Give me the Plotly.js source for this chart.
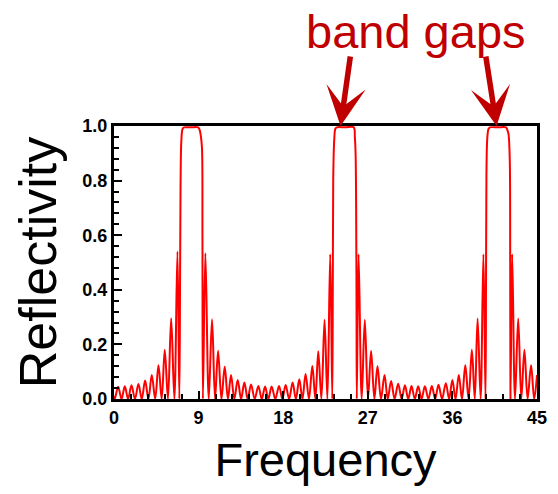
<!DOCTYPE html>
<html>
<head>
<meta charset="utf-8">
<script src="https://cdn.plot.ly/plotly-3.0.1.min.js"></script>
<style>html,body{margin:0;padding:0;background:#fff;}#chart{width:558px;height:494px;}</style>
</head>
<body>
<div id="chart"></div>
<script>
// Frequency (x) and reflectivity (y) points
var freq = [
  0, 0.08,
  0.44, 0.80, 1.15, 1.50, 1.86, 2.23, 2.60, 2.95, 3.31, 3.66, 4.02, 4.38, 4.73, 5.07, 5.40, 5.74, 6.08, 6.42, 6.75, 6.95,
  7.03, 7.08, 7.17, 7.30, 7.45, 8.20, 8.95, 9.12, 9.25, 9.36, 9.41, 9.46,
  9.72, 10.08, 10.43, 10.75, 11.07, 11.43, 11.78, 12.12, 12.45, 12.80, 13.16, 13.52, 13.87, 14.22, 14.58, 14.97,
  15.36, 15.72, 16.07, 16.42, 16.77, 17.16, 17.56, 17.91, 18.26, 18.63, 19.00, 19.35, 19.71, 20.05, 20.38, 20.74,
  21.10, 21.42, 21.73, 22.06, 22.40, 22.70, 23.00, 23.22,
  23.28, 23.32, 23.43, 23.55, 23.70, 24.60, 25.50, 25.62, 25.70, 25.76, 25.80, 25.83,
  26.02, 26.35, 26.68, 27.02, 27.35, 27.70, 28.03, 28.40, 28.78, 29.12, 29.48, 29.85, 30.23, 30.60, 30.95, 31.30,
  31.65, 32.00, 32.36, 32.72, 33.07, 33.45, 33.81, 34.17, 34.52, 34.90, 35.30, 35.65, 36.00, 36.33, 36.68, 37.02,
  37.37, 37.72, 38.07, 38.38, 38.68, 39.00, 39.30, 39.52,
  39.58, 39.62, 39.72, 39.85, 40.00, 40.85, 41.70, 41.85, 41.97, 42.10, 42.15, 42.18,
  42.36, 42.66, 43.00, 43.33, 43.66, 44.00, 44.37, 44.70, 45.00
];
var reflectivity = [
  0.012, 0,
  0.045, 0, 0.047, 0, 0.050, 0, 0.055, 0, 0.068, 0, 0.088, 0, 0.124, 0, 0.180, 0, 0.296, 0, 0.540, 0,
  0.45, 0.78, 0.95, 0.99, 0.995, 0.995, 0.995, 0.985, 0.96, 0.92, 0.6, 0,
  0.534, 0, 0.292, 0, 0.177, 0, 0.118, 0, 0.088, 0, 0.070, 0, 0.060, 0, 0.053, 0,
  0.048, 0, 0.046, 0, 0.046, 0, 0.048, 0, 0.051, 0, 0.060, 0, 0.072, 0, 0.092, 0,
  0.121, 0, 0.175, 0, 0.290, 0, 0.530, 0,
  0.45, 0.80, 0.95, 0.99, 0.995, 0.995, 0.995, 0.96, 0.90, 0.70, 0.35, 0,
  0.530, 0, 0.290, 0, 0.177, 0, 0.120, 0, 0.088, 0, 0.066, 0, 0.056, 0, 0.050, 0,
  0.048, 0, 0.047, 0, 0.047, 0, 0.048, 0, 0.052, 0, 0.058, 0, 0.070, 0, 0.088, 0,
  0.124, 0, 0.180, 0, 0.295, 0, 0.530, 0,
  0.45, 0.82, 0.96, 0.99, 0.995, 0.995, 0.995, 0.985, 0.97, 0.88, 0.5, 0,
  0.530, 0, 0.295, 0, 0.180, 0, 0.124, 0, 0.088
];
var xTickVals = [0, 9, 18, 27, 36, 45];
var xTickText = ["0", "9", "18", "27", "36", "45"];
var yTickVals = [0, 0.2, 0.4, 0.6, 0.8, 1.0];
var yTickText = ["0.0", "0.2", "0.4", "0.6", "0.8", "1.0"];
var gapArrowTips = [24.1, 40.7];
var annotationText = "band gaps";

var tickFont = {family: "Liberation Sans, Arial, sans-serif", size: 18, color: "#000", weight: "bold"};
var red = "#c00000";

var trace = {
  x: freq, y: reflectivity, type: "scatter", mode: "lines",
  line: {color: "#ff0000", width: 2, shape: "spline", smoothing: 1},
  hoverinfo: "skip"
};

var annotations = [
  {xref: "paper", yref: "paper", x: 0.714, y: 1.347, text: annotationText, showarrow: false,
   font: {family: "Liberation Sans, Arial, sans-serif", size: 47, color: red}, xanchor: "center", yanchor: "middle"}
];
var arrowOffsets = [[10, -71], [-11, -71]];
for (var i = 0; i < gapArrowTips.length; i++) {
  annotations.push({
    xref: "x", yref: "y", x: gapArrowTips[i], y: 1.0, text: "", showarrow: true,
    ax: arrowOffsets[i][0], ay: arrowOffsets[i][1], axref: "pixel", ayref: "pixel",
    arrowhead: 3, arrowsize: 1.2, arrowwidth: 5.5, arrowcolor: red, standoff: 0
  });
}

var layout = {
  width: 558, height: 494,
  margin: {l: 113.5, r: 21, t: 126, b: 95, pad: 0},
  paper_bgcolor: "#fff", plot_bgcolor: "#fff",
  showlegend: false,
  xaxis: {
    range: [0, 45], tickmode: "array", tickvals: xTickVals, ticktext: xTickText,
    ticks: "inside", ticklen: 8, tickwidth: 2, tickcolor: "#000",
    minor: {dtick: 1.8, tick0: 0, ticks: "inside", ticklen: 5, tickwidth: 2, tickcolor: "#000"},
    showline: true, linecolor: "#000", linewidth: 3, mirror: true,
    showgrid: false, zeroline: false, tickfont: tickFont,
    title: {text: "Frequency", font: {family: "Liberation Sans, Arial, sans-serif", size: 47, color: "#000"}, standoff: 17}
  },
  yaxis: {
    range: [0, 1], tickmode: "array", tickvals: yTickVals, ticktext: yTickText,
    ticks: "inside", ticklen: 8, tickwidth: 2, tickcolor: "#000",
    minor: {dtick: 0.04, tick0: 0, ticks: "inside", ticklen: 5, tickwidth: 2, tickcolor: "#000"},
    showline: true, linecolor: "#000", linewidth: 3, mirror: true,
    showgrid: false, zeroline: false, tickfont: tickFont,
    title: {text: "Reflectivity", font: {family: "Liberation Sans, Arial, sans-serif", size: 52, color: "#000"}, standoff: 10}
  },
  annotations: annotations
};

Plotly.newPlot("chart", [trace], layout, {displayModeBar: false, staticPlot: true});
</script>
</body>
</html>
